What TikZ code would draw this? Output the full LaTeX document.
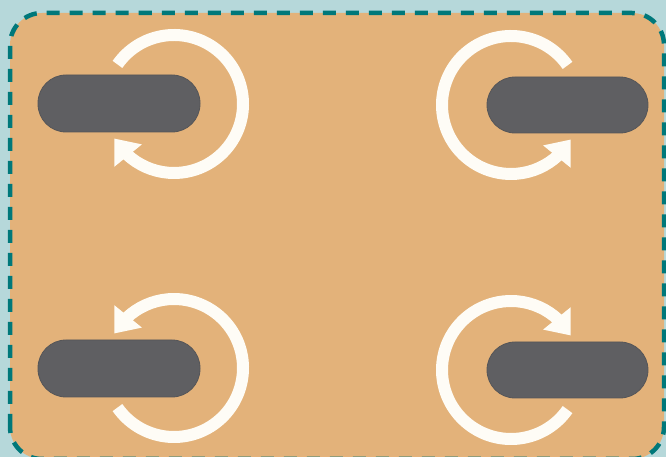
\documentclass[tikz,border=0pt]{standalone}
\usetikzlibrary{arrows.meta,bending}
\definecolor{bgteal}{HTML}{B6D8DA}
\definecolor{panel}{HTML}{E3B27A}
\definecolor{edgeteal}{HTML}{00787A}
\definecolor{pillgrey}{HTML}{5F5F62}
\definecolor{arrowwhite}{HTML}{FEFCF6}
\tikzset{
  panelbox/.style={fill=panel, draw=edgeteal, line width=4.5pt, dash pattern=on 13pt off 10pt, rounded corners=32pt},
  pillbox/.style={fill=pillgrey, draw=pillgrey!90!black, line width=0.8pt, rounded corners=28pt},
  turnarrow/.style={draw=arrowwhite, line width=12pt, -{Triangle[width=34pt,length=22pt,flex]}}
}
\begin{document}
\begin{tikzpicture}[x=1pt,y=1pt]
  \fill[bgteal] (0,0) rectangle (666,457);
  \useasboundingbox (0,0) rectangle (666,457);
  \draw[panelbox] (10,-2) rectangle (664,444);
  % pills
  \draw[pillbox] (38,325) rectangle (200,382);
  \draw[pillbox] (487,324) rectangle (648,380);
  \draw[pillbox] (38,60) rectangle (200,117);
  \draw[pillbox] (487,59) rectangle (648,115);
  % centres of rotation
  \coordinate (ctl) at (174,353);
  \coordinate (ctr) at (511,352);
  \coordinate (cbl) at (174,89);
  \coordinate (cbr) at (511,87);
  % arrows
  \draw[turnarrow] (ctl) ++(145:69) arc[start angle=145, end angle=-150, radius=69];
  \draw[turnarrow] (ctr) ++(35:69) arc[start angle=35, end angle=330, radius=69];
  \draw[turnarrow] (cbl) ++(-145:69) arc[start angle=-145, end angle=150, radius=69];
  \draw[turnarrow] (cbr) ++(-35:69) arc[start angle=-35, end angle=-330, radius=69];
\end{tikzpicture}
\end{document}
